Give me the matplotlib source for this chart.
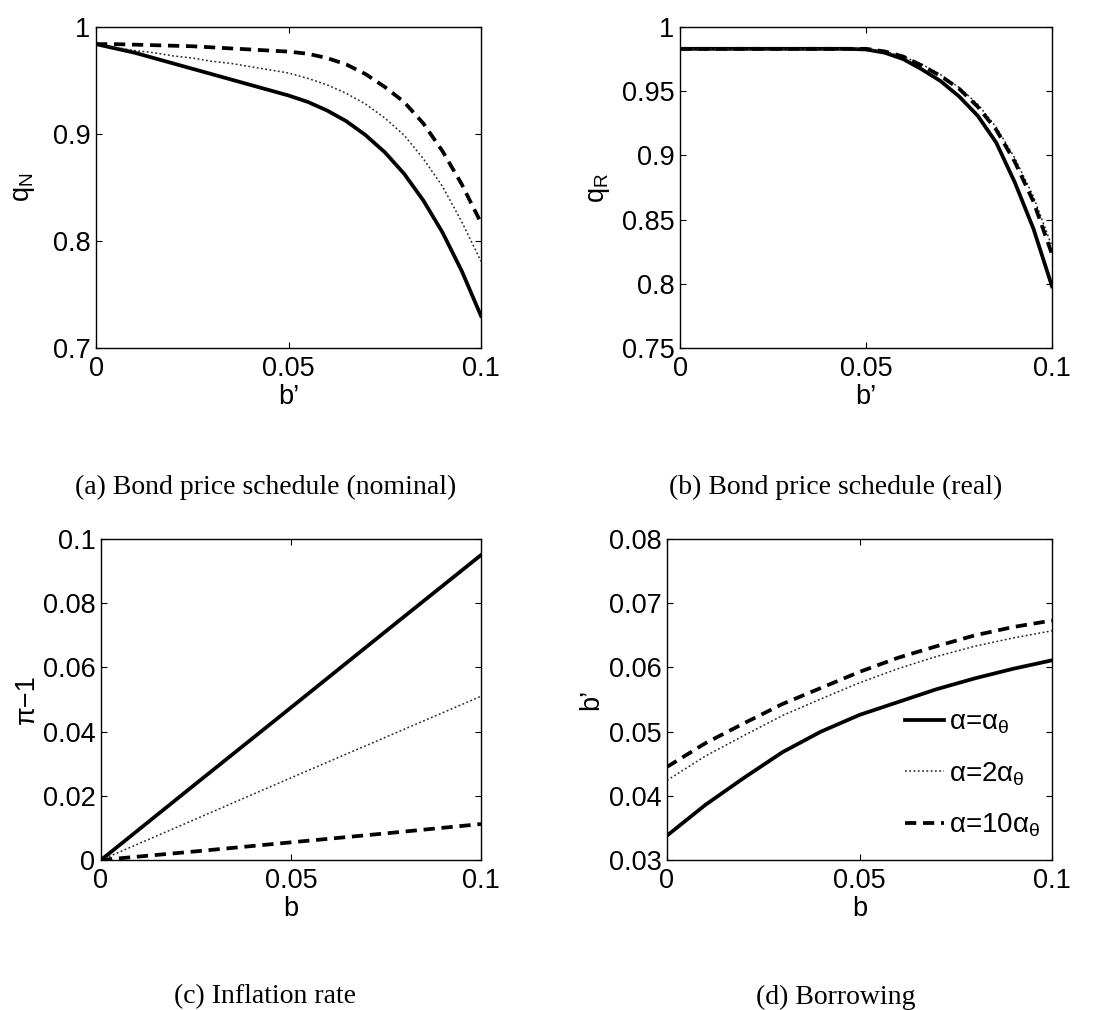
import matplotlib
matplotlib.use("Agg")
import matplotlib.pyplot as plt
import numpy as np

plt.rcParams['font.family'] = ['Liberation Sans', 'DejaVu Sans']
plt.rcParams['mathtext.fontset'] = 'custom'
plt.rcParams['mathtext.rm'] = 'Liberation Sans'
plt.rcParams['mathtext.it'] = 'Liberation Sans:italic'

# ---------------- data ----------------
# Panel (a): nominal bond price schedule, x = b'
xa = [0, 0.005, 0.01, 0.015, 0.02, 0.025, 0.03, 0.035, 0.04, 0.045, 0.05,
      0.055, 0.06, 0.065, 0.07, 0.075, 0.08, 0.085, 0.09, 0.095, 0.1]
qn_a1 = [0.984, 0.980, 0.976, 0.971, 0.966, 0.961, 0.956, 0.951, 0.946, 0.941, 0.936,
         0.930, 0.922, 0.912, 0.899, 0.883, 0.863, 0.838, 0.808, 0.772, 0.730]
qn_a2 = [0.984, 0.981, 0.978, 0.976, 0.973, 0.971, 0.968, 0.966, 0.963, 0.960, 0.957,
         0.952, 0.946, 0.938, 0.928, 0.915, 0.899, 0.877, 0.851, 0.818, 0.781]
qn_a10 = [0.984, 0.984, 0.9835, 0.983, 0.9825, 0.982, 0.981, 0.980, 0.979, 0.978, 0.977,
          0.975, 0.971, 0.965, 0.956, 0.944, 0.930, 0.910, 0.884, 0.853, 0.817]

# Panel (b): real bond price schedule
qr_a1 = [0.983, 0.983, 0.983, 0.983, 0.983, 0.983, 0.983, 0.983, 0.983, 0.983, 0.9825,
         0.980, 0.975, 0.967, 0.958, 0.946, 0.931, 0.910, 0.879, 0.843, 0.798]
qr_a2 = [0.983, 0.983, 0.983, 0.983, 0.983, 0.983, 0.983, 0.983, 0.983, 0.983, 0.983,
         0.981, 0.977, 0.971, 0.963, 0.953, 0.940, 0.922, 0.898, 0.868, 0.829]
qr_a10 = [0.983, 0.983, 0.983, 0.983, 0.983, 0.983, 0.983, 0.983, 0.983, 0.983, 0.983,
          0.981, 0.977, 0.970, 0.962, 0.952, 0.938, 0.920, 0.895, 0.864, 0.823]

# Panel (c): inflation rate, x = b
xc = [0, 0.025, 0.05, 0.075, 0.1]
inf_a1 = [0.0, 0.0238, 0.0475, 0.0713, 0.095]
inf_a2 = [0.0, 0.0128, 0.0256, 0.0383, 0.051]
inf_a10 = [0.0, 0.0027, 0.0055, 0.0083, 0.0112]

# Panel (d): borrowing, x = b
xd = [0, 0.01, 0.02, 0.03, 0.04, 0.05, 0.06, 0.07, 0.08, 0.09, 0.1]
bp_a1 = [0.0338, 0.0386, 0.0428, 0.0468, 0.0500, 0.0526, 0.0546, 0.0566, 0.0583, 0.0598, 0.0611]
bp_a2 = [0.0424, 0.0462, 0.0494, 0.0525, 0.0551, 0.0576, 0.0598, 0.0617, 0.0633, 0.0646, 0.0657]
bp_a10 = [0.0445, 0.0482, 0.0513, 0.0543, 0.0568, 0.0593, 0.0615, 0.0633, 0.0650, 0.0663, 0.0673]

series_labels = ['\u03b1=\u03b1$_{\\mathregular{\u03b8}}$',
                 '\u03b1=2\u03b1$_{\\mathregular{\u03b8}}$',
                 '\u03b1=10\u03b1$_{\\mathregular{\u03b8}}$']

xticks = [0, 0.05, 0.1]
xticklabels = ['0', '0.05', '0.1']
yticks_a = [0.7, 0.8, 0.9, 1.0]
yticklabels_a = ['0.7', '0.8', '0.9', '1']
yticks_b = [0.75, 0.8, 0.85, 0.9, 0.95, 1.0]
yticklabels_b = ['0.75', '0.8', '0.85', '0.9', '0.95', '1']
yticks_c = [0, 0.02, 0.04, 0.06, 0.08, 0.1]
yticklabels_c = ['0', '0.02', '0.04', '0.06', '0.08', '0.1']
yticks_d = [0.03, 0.04, 0.05, 0.06, 0.07, 0.08]
yticklabels_d = ['0.03', '0.04', '0.05', '0.06', '0.07', '0.08']

captions = ['(a) Bond price schedule (nominal)', '(b) Bond price schedule (real)',
            '(c) Inflation rate', '(d) Borrowing']

# ---------------- figure ----------------
W, H = 1096, 1010
fig = plt.figure(figsize=(W / 100, H / 100), dpi=100)

def rect(l, t, r, b):
    return [l / W, 1 - b / H, (r - l) / W, (b - t) / H]

FS = 19.5
LW = 2.7
styles = [dict(color='black', lw=LW, ls='-'),
          dict(color='0.15', lw=1.1, ls=(0, (1.2, 1.6))),
          dict(color='black', lw=LW, ls=(0, (3.0, 1.8)))]

def style_axes(ax, yt, ytl, ylim):
    ax.set_xlim(0, 0.1)
    ax.set_ylim(*ylim)
    ax.set_xticks(xticks)
    ax.set_xticklabels(xticklabels)
    ax.set_yticks(yt)
    ax.set_yticklabels(ytl)
    ax.tick_params(direction='in', top=True, right=True, length=4, width=0.8,
                   labelsize=FS)
    ax.tick_params(axis='x', pad=6)
    ax.tick_params(axis='y', pad=4)
    for s in ax.spines.values():
        s.set_linewidth(1.0)

panels = [
    (rect(96, 27, 481, 348), xa, [qn_a1, qn_a2, qn_a10], yticks_a, yticklabels_a, (0.7, 1.0),
     r'$\mathregular{q_N}$', 'b\u2019', 11),
    (rect(680, 27, 1052, 348), xa, [qr_a1, qr_a2, qr_a10], yticks_b, yticklabels_b, (0.75, 1.0),
     r'$\mathregular{q_R}$', 'b\u2019', 7),
    (rect(101, 539, 481, 860), xc, [inf_a1, inf_a2, inf_a10], yticks_c, yticklabels_c, (0, 0.1),
     '\u03c0\u22121', 'b', 2),
    (rect(667, 539, 1052, 860), xd, [bp_a1, bp_a2, bp_a10], yticks_d, yticklabels_d, (0.03, 0.08),
     'b\u2019', 'b', 3),
]

axes = []
for (r, x, ys, yt, ytl, ylim, ylab, xlab, lpad) in panels:
    ax = fig.add_axes(r)
    for y, st, lab in zip(ys, styles, series_labels):
        ax.plot(x, y, label=lab, **st)
    style_axes(ax, yt, ytl, ylim)
    ax.set_xlabel(xlab, fontsize=FS, labelpad=1)
    ax.set_ylabel(ylab, fontsize=FS, labelpad=lpad)
    axes.append(ax)

axes[3].legend(loc='upper left', bbox_to_anchor=(905 / W, 1 - 710 / H),
               bbox_transform=fig.transFigure, frameon=False, fontsize=20,
               handlelength=1.4, handletextpad=0.2, borderpad=0, borderaxespad=0,
               labelspacing=0.85)

cap_pos = [(266, 487), (836, 487), (265, 997), (836, 997)]
for (cx, cy), txt in zip(cap_pos, captions):
    fig.text(cx / W, 1 - cy / H, txt, ha='center', va='center',
             fontsize=20, family=['Liberation Serif', 'DejaVu Serif'])

fig.savefig('out.png', dpi=100)
